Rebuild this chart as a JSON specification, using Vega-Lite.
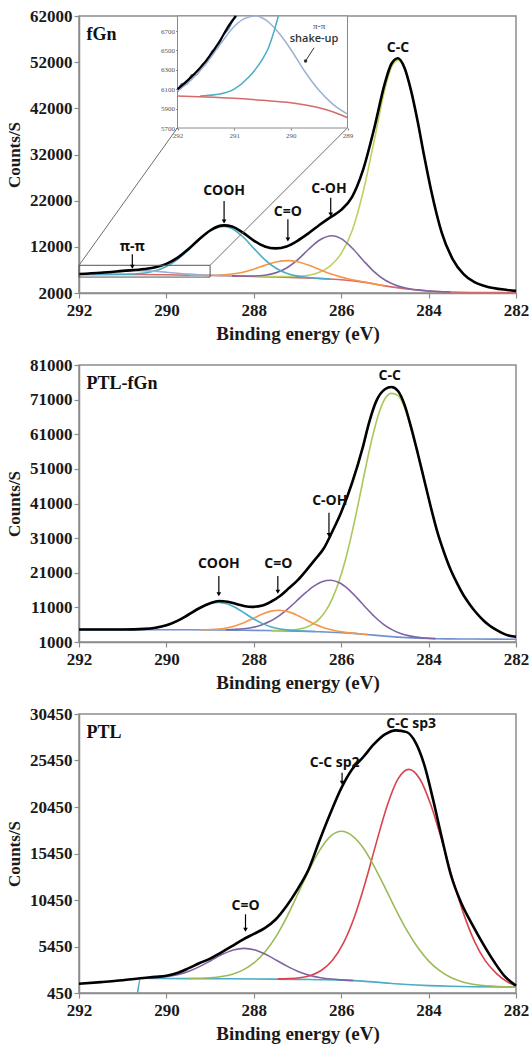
{
"$schema":"https://vega.github.io/schema/vega-lite/v6.json",
"background":"white",
"padding":{"left":4,"top":6,"right":5,"bottom":5},
"bounds":"flush",
"spacing":72,
"resolve":{"scale":{"color":"independent"}},
"config":{
 "view":{"stroke":"#8c8c8c","strokeWidth":1.5},
 "axis":{"labelFont":"Liberation Serif","labelFontWeight":"bold","labelColor":"#1a1a1a","titleFont":"Liberation Serif","titleFontWeight":"bold","titleColor":"#1a1a1a","domainColor":"#8c8c8c","domainWidth":1.5,"tickColor":"#8c8c8c","tickWidth":1.2,"tickSize":5,"grid":false,"labelFlush":false,"labelOverlap":false}
},
"datasets":{
"p1":[
{"E":292,"v":6100,"s":"env"},{"E":291.5,"v":6390,"s":"env"},{"E":291,"v":6790,"s":"env"},{"E":290.5,"v":7200,"s":"env"},{"E":290.25,"v":7576,"s":"env"},{"E":290,"v":8318,"s":"env"},{"E":289.75,"v":9608,"s":"env"},{"E":289.5,"v":11479,"s":"env"},{"E":289.25,"v":13639,"s":"env"},{"E":289,"v":15538,"s":"env"},{"E":288.75,"v":16600,"s":"env"},{"E":288.68,"v":16642,"s":"env"},{"E":288.5,"v":16394,"s":"env"},{"E":288.25,"v":15076,"s":"env"},{"E":288,"v":13356,"s":"env"},{"E":287.75,"v":12089,"s":"env"},{"E":287.5,"v":11660,"s":"env"},{"E":287.25,"v":12093,"s":"env"},{"E":287,"v":13310,"s":"env"},{"E":286.75,"v":14926,"s":"env"},{"E":286.5,"v":16729,"s":"env"},{"E":286.25,"v":18382,"s":"env"},{"E":286,"v":20001,"s":"env"},{"E":285.75,"v":22828,"s":"env"},{"E":285.5,"v":28669,"s":"env"},{"E":285.25,"v":37473,"s":"env"},{"E":285,"v":47474,"s":"env"},{"E":284.85,"v":51653,"s":"env"},{"E":284.7,"v":52843,"s":"env"},{"E":284.55,"v":50739,"s":"env"},{"E":284.4,"v":45775,"s":"env"},{"E":284.25,"v":39150,"s":"env"},{"E":284.1,"v":31607,"s":"env"},{"E":283.95,"v":24585,"s":"env"},{"E":283.7,"v":15098,"s":"env"},{"E":283.45,"v":9359,"s":"env"},{"E":283.2,"v":6094,"s":"env"},{"E":282.95,"v":4334,"s":"env"},{"E":282.7,"v":3470,"s":"env"},{"E":282.2,"v":2657,"s":"env"},{"E":282,"v":2454,"s":"env"},
{"E":292,"v":6040,"s":"bg"},{"E":291,"v":6010,"s":"bg"},{"E":290,"v":5950,"s":"bg"},{"E":289.5,"v":5880,"s":"bg"},{"E":289,"v":5800,"s":"bg"},{"E":288.5,"v":5700,"s":"bg"},{"E":288,"v":5580,"s":"bg"},{"E":287.5,"v":5460,"s":"bg"},{"E":287,"v":5320,"s":"bg"},{"E":286.5,"v":5140,"s":"bg"},{"E":286,"v":4880,"s":"bg"},{"E":285.5,"v":4350,"s":"bg"},{"E":285,"v":3550,"s":"bg"},{"E":284.5,"v":2880,"s":"bg"},{"E":284,"v":2420,"s":"bg"},{"E":283.5,"v":2220,"s":"bg"},{"E":283,"v":2120,"s":"bg"},{"E":282,"v":2060,"s":"bg"},
{"E":288,"v":5600,"s":"CC"},{"E":287.5,"v":5560,"s":"CC"},{"E":287,"v":5640,"s":"CC"},{"E":286.75,"v":5832,"s":"CC"},{"E":286.5,"v":6471,"s":"CC"},{"E":286.25,"v":7879,"s":"CC"},{"E":286,"v":10550,"s":"CC"},{"E":285.75,"v":15496,"s":"CC"},{"E":285.5,"v":23824,"s":"CC"},{"E":285.25,"v":34763,"s":"CC"},{"E":285,"v":46195,"s":"CC"},{"E":284.85,"v":50905,"s":"CC"},{"E":284.7,"v":52430,"s":"CC"},{"E":284.55,"v":50525,"s":"CC"},{"E":284.4,"v":45671,"s":"CC"},{"E":284.25,"v":39102,"s":"CC"},{"E":284.1,"v":31587,"s":"CC"},{"E":283.95,"v":24585,"s":"CC"},{"E":283.7,"v":15098,"s":"CC"},{"E":283.45,"v":9359,"s":"CC"},{"E":283.2,"v":6094,"s":"CC"},{"E":282.95,"v":4334,"s":"CC"},{"E":282.7,"v":3470,"s":"CC"},{"E":282.2,"v":2657,"s":"CC"},{"E":282,"v":2454,"s":"CC"},
{"E":288.5,"v":5706,"s":"COH"},{"E":288,"v":5684,"s":"COH"},{"E":287.75,"v":5854,"s":"COH"},{"E":287.5,"v":6359,"s":"COH"},{"E":287.25,"v":7423,"s":"COH"},{"E":287,"v":9185,"s":"COH"},{"E":286.75,"v":11416,"s":"COH"},{"E":286.5,"v":13436,"s":"COH"},{"E":286.2,"v":14390,"s":"COH"},{"E":286,"v":13770,"s":"COH"},{"E":285.75,"v":11745,"s":"COH"},{"E":285.5,"v":9110,"s":"COH"},{"E":285.25,"v":6634,"s":"COH"},{"E":285,"v":4822,"s":"COH"},{"E":284.75,"v":3687,"s":"COH"},{"E":284.5,"v":3020,"s":"COH"},{"E":284.25,"v":2668,"s":"COH"},{"E":284,"v":2431,"s":"COH"},{"E":283.5,"v":2225,"s":"COH"},
{"E":289.5,"v":5884,"s":"CO"},{"E":289,"v":5854,"s":"CO"},{"E":288.75,"v":5910,"s":"CO"},{"E":288.5,"v":6105,"s":"CO"},{"E":288.25,"v":6510,"s":"CO"},{"E":288,"v":7168,"s":"CO"},{"E":287.75,"v":7983,"s":"CO"},{"E":287.5,"v":8707,"s":"CO"},{"E":287.2,"v":9020,"s":"CO"},{"E":287,"v":8784,"s":"CO"},{"E":286.75,"v":8045,"s":"CO"},{"E":286.5,"v":7070,"s":"CO"},{"E":286.25,"v":6148,"s":"CO"},{"E":286,"v":5441,"s":"CO"},{"E":285.75,"v":4887,"s":"CO"},{"E":285.5,"v":4435,"s":"CO"},{"E":285.25,"v":3976,"s":"CO"},{"E":285,"v":3557,"s":"CO"},
{"E":292,"v":6040,"s":"COOH"},{"E":291,"v":6054,"s":"COOH"},{"E":290.5,"v":6344,"s":"COOH"},{"E":290.25,"v":6832,"s":"COOH"},{"E":290,"v":7758,"s":"COOH"},{"E":289.75,"v":9243,"s":"COOH"},{"E":289.5,"v":11273,"s":"COOH"},{"E":289.25,"v":13523,"s":"COOH"},{"E":289,"v":15441,"s":"COOH"},{"E":288.85,"v":16160,"s":"COOH"},{"E":288.68,"v":16430,"s":"COOH"},{"E":288.5,"v":15983,"s":"COOH"},{"E":288.25,"v":14179,"s":"COOH"},{"E":288,"v":11664,"s":"COOH"},{"E":287.75,"v":9242,"s":"COOH"},{"E":287.5,"v":7415,"s":"COOH"},{"E":287.25,"v":6272,"s":"COOH"},{"E":287,"v":5661,"s":"COOH"},{"E":286.75,"v":5353,"s":"COOH"},{"E":286.5,"v":5172,"s":"COOH"},{"E":286.25,"v":5028,"s":"COOH"},
{"E":292,"v":6080,"s":"pp"},{"E":291.75,"v":6200,"s":"pp"},{"E":291.5,"v":6360,"s":"pp"},{"E":291.25,"v":6560,"s":"pp"},{"E":291,"v":6747,"s":"pp"},{"E":290.8,"v":6833,"s":"pp"},{"E":290.62,"v":6855,"s":"pp"},{"E":290.4,"v":6796,"s":"pp"},{"E":290.2,"v":6671,"s":"pp"},{"E":290,"v":6510,"s":"pp"},{"E":289.75,"v":6280,"s":"pp"},{"E":289.5,"v":6086,"s":"pp"},{"E":289.25,"v":5941,"s":"pp"},{"E":289,"v":5843,"s":"pp"},{"E":288.75,"v":5766,"s":"pp"},{"E":288.5,"v":5705,"s":"pp"}
],
"ins":[
{"E":292,"v":6100,"s":"env"},{"E":291.75,"v":6230,"s":"env"},{"E":291.5,"v":6390,"s":"env"},{"E":291.25,"v":6600,"s":"env"},{"E":291.1,"v":6750,"s":"env"},{"E":290.97,"v":6855,"s":"env"},
{"E":292,"v":6070,"s":"raw"},{"E":291.92,"v":6160,"s":"raw"},{"E":291.84,"v":6150,"s":"raw"},{"E":291.75,"v":6250,"s":"raw"},{"E":291.66,"v":6250,"s":"raw"},{"E":291.57,"v":6350,"s":"raw"},{"E":291.48,"v":6390,"s":"raw"},{"E":291.38,"v":6500,"s":"raw"},{"E":291.3,"v":6520,"s":"raw"},{"E":291.2,"v":6650,"s":"raw"},{"E":291.1,"v":6720,"s":"raw"},{"E":291,"v":6830,"s":"raw"},{"E":290.95,"v":6855,"s":"raw"},
{"E":292,"v":6080,"s":"pp"},{"E":291.75,"v":6200,"s":"pp"},{"E":291.5,"v":6360,"s":"pp"},{"E":291.25,"v":6560,"s":"pp"},{"E":291,"v":6747,"s":"pp"},{"E":290.8,"v":6833,"s":"pp"},{"E":290.62,"v":6855,"s":"pp"},{"E":290.4,"v":6796,"s":"pp"},{"E":290.2,"v":6671,"s":"pp"},{"E":290,"v":6510,"s":"pp"},{"E":289.75,"v":6280,"s":"pp"},{"E":289.5,"v":6086,"s":"pp"},{"E":289.25,"v":5941,"s":"pp"},{"E":289,"v":5843,"s":"pp"},
{"E":291.6,"v":6030,"s":"COOH"},{"E":291.25,"v":6050,"s":"COOH"},{"E":291,"v":6100,"s":"COOH"},{"E":290.75,"v":6220,"s":"COOH"},{"E":290.5,"v":6410,"s":"COOH"},{"E":290.4,"v":6520,"s":"COOH"},{"E":290.3,"v":6690,"s":"COOH"},{"E":290.22,"v":6855,"s":"COOH"},
{"E":292,"v":6030,"s":"bg"},{"E":291.5,"v":6020,"s":"bg"},{"E":291,"v":6006,"s":"bg"},{"E":290.5,"v":5985,"s":"bg"},{"E":290,"v":5961,"s":"bg"},{"E":289.5,"v":5909,"s":"bg"},{"E":289.25,"v":5865,"s":"bg"},{"E":289,"v":5806,"s":"bg"}
],
"p2":[
{"E":292,"v":4600,"s":"env"},{"E":291,"v":4620,"s":"env"},{"E":290.5,"v":4800,"s":"env"},{"E":290.25,"v":5120,"s":"env"},{"E":290,"v":5830,"s":"env"},{"E":289.75,"v":7100,"s":"env"},{"E":289.5,"v":8870,"s":"env"},{"E":289.25,"v":10750,"s":"env"},{"E":289,"v":12180,"s":"env"},{"E":288.8,"v":12840,"s":"env"},{"E":288.6,"v":12650,"s":"env"},{"E":288.4,"v":11950,"s":"env"},{"E":288.2,"v":11350,"s":"env"},{"E":288.05,"v":11150,"s":"env"},{"E":287.8,"v":11550,"s":"env"},{"E":287.6,"v":12700,"s":"env"},{"E":287.4,"v":14300,"s":"env"},{"E":287.2,"v":16500,"s":"env"},{"E":287,"v":18800,"s":"env"},{"E":286.8,"v":21700,"s":"env"},{"E":286.6,"v":24800,"s":"env"},{"E":286.4,"v":28000,"s":"env"},{"E":286.2,"v":33000,"s":"env"},{"E":286,"v":38500,"s":"env"},{"E":285.75,"v":47000,"s":"env"},{"E":285.5,"v":57500,"s":"env"},{"E":285.37,"v":64000,"s":"env"},{"E":285.2,"v":70500,"s":"env"},{"E":285,"v":74000,"s":"env"},{"E":284.85,"v":74650,"s":"env"},{"E":284.7,"v":73500,"s":"env"},{"E":284.55,"v":69500,"s":"env"},{"E":284.4,"v":63000,"s":"env"},{"E":284.25,"v":55600,"s":"env"},{"E":284.1,"v":47800,"s":"env"},{"E":283.95,"v":40000,"s":"env"},{"E":283.8,"v":32800,"s":"env"},{"E":283.65,"v":27000,"s":"env"},{"E":283.5,"v":22000,"s":"env"},{"E":283.35,"v":18000,"s":"env"},{"E":283.2,"v":14500,"s":"env"},{"E":283.05,"v":11700,"s":"env"},{"E":282.9,"v":9300,"s":"env"},{"E":282.75,"v":7300,"s":"env"},{"E":282.6,"v":5700,"s":"env"},{"E":282.45,"v":4500,"s":"env"},{"E":282.3,"v":3500,"s":"env"},{"E":282.15,"v":2800,"s":"env"},{"E":282,"v":2500,"s":"env"},
{"E":292,"v":4600,"s":"bg"},{"E":290,"v":4550,"s":"bg"},{"E":289,"v":4480,"s":"bg"},{"E":288.5,"v":4420,"s":"bg"},{"E":288,"v":4350,"s":"bg"},{"E":287.5,"v":4260,"s":"bg"},{"E":287,"v":4150,"s":"bg"},{"E":286.5,"v":3980,"s":"bg"},{"E":286,"v":3700,"s":"bg"},{"E":285.5,"v":3250,"s":"bg"},{"E":285,"v":2700,"s":"bg"},{"E":284.5,"v":2250,"s":"bg"},{"E":284,"v":2000,"s":"bg"},{"E":283.5,"v":1900,"s":"bg"},{"E":283,"v":1850,"s":"bg"},{"E":282,"v":1800,"s":"bg"},
{"E":287.6,"v":4278,"s":"CC"},{"E":287.35,"v":4314,"s":"CC"},{"E":287.1,"v":4465,"s":"CC"},{"E":286.85,"v":5020,"s":"CC"},{"E":286.65,"v":6140,"s":"CC"},{"E":286.5,"v":7680,"s":"CC"},{"E":286.35,"v":10070,"s":"CC"},{"E":286.2,"v":13610,"s":"CC"},{"E":286.05,"v":18530,"s":"CC"},{"E":285.9,"v":24920,"s":"CC"},{"E":285.75,"v":32730,"s":"CC"},{"E":285.6,"v":41550,"s":"CC"},{"E":285.45,"v":50820,"s":"CC"},{"E":285.3,"v":59440,"s":"CC"},{"E":285.15,"v":66580,"s":"CC"},{"E":285,"v":71250,"s":"CC"},{"E":284.85,"v":72800,"s":"CC"},{"E":284.7,"v":72170,"s":"CC"},{"E":284.55,"v":68690,"s":"CC"},{"E":284.4,"v":62527,"s":"CC"},{"E":284.25,"v":55337,"s":"CC"},{"E":284.1,"v":47660,"s":"CC"},{"E":283.95,"v":39930,"s":"CC"},{"E":283.8,"v":32800,"s":"CC"},{"E":283.65,"v":27000,"s":"CC"},{"E":283.5,"v":22000,"s":"CC"},{"E":283.35,"v":18000,"s":"CC"},{"E":283.2,"v":14500,"s":"CC"},{"E":283.05,"v":11700,"s":"CC"},{"E":282.9,"v":9300,"s":"CC"},{"E":282.75,"v":7300,"s":"CC"},{"E":282.6,"v":5700,"s":"CC"},{"E":282.45,"v":4500,"s":"CC"},{"E":282.3,"v":3500,"s":"CC"},{"E":282.15,"v":2800,"s":"CC"},{"E":282,"v":2500,"s":"CC"},
{"E":288.64,"v":4520,"s":"COH"},{"E":288.24,"v":4808,"s":"COH"},{"E":288.04,"v":5193,"s":"COH"},{"E":287.84,"v":5862,"s":"COH"},{"E":287.64,"v":6905,"s":"COH"},{"E":287.44,"v":8410,"s":"COH"},{"E":287.24,"v":10353,"s":"COH"},{"E":287.04,"v":12633,"s":"COH"},{"E":286.84,"v":14956,"s":"COH"},{"E":286.64,"v":16999,"s":"COH"},{"E":286.44,"v":18406,"s":"COH"},{"E":286.24,"v":18820,"s":"COH"},{"E":286.04,"v":18091,"s":"COH"},{"E":285.84,"v":16270,"s":"COH"},{"E":285.64,"v":13754,"s":"COH"},{"E":285.44,"v":10984,"s":"COH"},{"E":285.24,"v":8369,"s":"COH"},{"E":285.04,"v":6183,"s":"COH"},{"E":284.84,"v":4571,"s":"COH"},{"E":284.64,"v":3479,"s":"COH"},{"E":284.44,"v":2769,"s":"COH"},{"E":284.24,"v":2353,"s":"COH"},{"E":284.04,"v":2118,"s":"COH"},{"E":283.84,"v":1980,"s":"COH"},
{"E":289.2,"v":4535,"s":"CO"},{"E":289,"v":4607,"s":"CO"},{"E":288.8,"v":4773,"s":"CO"},{"E":288.6,"v":5128,"s":"CO"},{"E":288.4,"v":5760,"s":"CO"},{"E":288.2,"v":6703,"s":"CO"},{"E":288,"v":7884,"s":"CO"},{"E":287.8,"v":9060,"s":"CO"},{"E":287.6,"v":9918,"s":"CO"},{"E":287.42,"v":10174,"s":"CO"},{"E":287.2,"v":9698,"s":"CO"},{"E":287,"v":8670,"s":"CO"},{"E":286.8,"v":7367,"s":"CO"},{"E":286.6,"v":6121,"s":"CO"},{"E":286.4,"v":5144,"s":"CO"},{"E":286.2,"v":4468,"s":"CO"},{"E":286,"v":3967,"s":"CO"},{"E":285.8,"v":3625,"s":"CO"},{"E":285.6,"v":3376,"s":"CO"},{"E":285.4,"v":3160,"s":"CO"},
{"E":292,"v":4600,"s":"COOH"},{"E":291.5,"v":4590,"s":"COOH"},{"E":291,"v":4594,"s":"COOH"},{"E":290.5,"v":4749,"s":"COOH"},{"E":290.25,"v":5078,"s":"COOH"},{"E":290,"v":5780,"s":"COOH"},{"E":289.75,"v":7013,"s":"COOH"},{"E":289.5,"v":8747,"s":"COOH"},{"E":289.25,"v":10643,"s":"COOH"},{"E":289,"v":12073,"s":"COOH"},{"E":288.8,"v":12456,"s":"COOH"},{"E":288.6,"v":12000,"s":"COOH"},{"E":288.4,"v":10816,"s":"COOH"},{"E":288.2,"v":9234,"s":"COOH"},{"E":288,"v":7638,"s":"COOH"},{"E":287.8,"v":6306,"s":"COOH"},{"E":287.6,"v":5358,"s":"COOH"},{"E":287.4,"v":4766,"s":"COOH"},{"E":287.2,"v":4424,"s":"COOH"},{"E":287,"v":4239,"s":"COOH"},{"E":286.8,"v":4113,"s":"COOH"},{"E":286.6,"v":4024,"s":"COOH"}
],
"p3":[
{"E":292,"v":1450,"s":"env"},{"E":291.5,"v":1620,"s":"env"},{"E":291,"v":1820,"s":"env"},{"E":290.6,"v":2030,"s":"env"},{"E":290.25,"v":2180,"s":"env"},{"E":290,"v":2300,"s":"env"},{"E":289.75,"v":2600,"s":"env"},{"E":289.5,"v":3100,"s":"env"},{"E":289.25,"v":3650,"s":"env"},{"E":289,"v":4150,"s":"env"},{"E":288.75,"v":4800,"s":"env"},{"E":288.5,"v":5480,"s":"env"},{"E":288.25,"v":6200,"s":"env"},{"E":288,"v":6800,"s":"env"},{"E":287.75,"v":7420,"s":"env"},{"E":287.5,"v":8350,"s":"env"},{"E":287.25,"v":9800,"s":"env"},{"E":287,"v":11600,"s":"env"},{"E":286.75,"v":13700,"s":"env"},{"E":286.5,"v":16800,"s":"env"},{"E":286.25,"v":19750,"s":"env"},{"E":286,"v":22450,"s":"env"},{"E":285.75,"v":24500,"s":"env"},{"E":285.5,"v":25800,"s":"env"},{"E":285.25,"v":27200,"s":"env"},{"E":285,"v":28250,"s":"env"},{"E":284.75,"v":28690,"s":"env"},{"E":284.5,"v":28500,"s":"env"},{"E":284.3,"v":27400,"s":"env"},{"E":284.1,"v":25000,"s":"env"},{"E":283.9,"v":21300,"s":"env"},{"E":283.7,"v":17200,"s":"env"},{"E":283.5,"v":13300,"s":"env"},{"E":283.25,"v":10100,"s":"env"},{"E":283,"v":7800,"s":"env"},{"E":282.75,"v":5700,"s":"env"},{"E":282.5,"v":3800,"s":"env"},{"E":282.25,"v":2200,"s":"env"},{"E":282,"v":1250,"s":"env"},
{"E":290.66,"v":450,"s":"bg"},{"E":290.59,"v":2030,"s":"bg"},{"E":290,"v":2010,"s":"bg"},{"E":289,"v":1990,"s":"bg"},{"E":288,"v":1960,"s":"bg"},{"E":287,"v":1920,"s":"bg"},{"E":286.5,"v":1880,"s":"bg"},{"E":286,"v":1835,"s":"bg"},{"E":285.5,"v":1730,"s":"bg"},{"E":285,"v":1540,"s":"bg"},{"E":284.5,"v":1365,"s":"bg"},{"E":284,"v":1245,"s":"bg"},{"E":283.5,"v":1170,"s":"bg"},{"E":283,"v":1130,"s":"bg"},{"E":282,"v":1100,"s":"bg"},
{"E":287.45,"v":1965,"s":"sp3"},{"E":287.2,"v":1998,"s":"sp3"},{"E":286.95,"v":2095,"s":"sp3"},{"E":286.7,"v":2344,"s":"sp3"},{"E":286.45,"v":2897,"s":"sp3"},{"E":286.2,"v":3974,"s":"sp3"},{"E":285.95,"v":5810,"s":"sp3"},{"E":285.7,"v":8600,"s":"sp3"},{"E":285.45,"v":12310,"s":"sp3"},{"E":285.2,"v":16540,"s":"sp3"},{"E":284.95,"v":20570,"s":"sp3"},{"E":284.7,"v":23470,"s":"sp3"},{"E":284.45,"v":24500,"s":"sp3"},{"E":284.2,"v":23460,"s":"sp3"},{"E":283.95,"v":20685,"s":"sp3"},{"E":283.7,"v":16875,"s":"sp3"},{"E":283.45,"v":12735,"s":"sp3"},{"E":283.2,"v":8985,"s":"sp3"},{"E":282.95,"v":6010,"s":"sp3"},{"E":282.7,"v":3900,"s":"sp3"},{"E":282.45,"v":2560,"s":"sp3"},{"E":282.2,"v":1650,"s":"sp3"},{"E":282,"v":1230,"s":"sp3"},
{"E":289.49,"v":2013,"s":"sp2"},{"E":288.99,"v":2094,"s":"sp2"},{"E":288.74,"v":2220,"s":"sp2"},{"E":288.49,"v":2474,"s":"sp2"},{"E":288.24,"v":2936,"s":"sp2"},{"E":287.99,"v":3706,"s":"sp2"},{"E":287.74,"v":4883,"s":"sp2"},{"E":287.49,"v":6547,"s":"sp2"},{"E":287.24,"v":8673,"s":"sp2"},{"E":286.99,"v":11122,"s":"sp2"},{"E":286.74,"v":13614,"s":"sp2"},{"E":286.49,"v":15816,"s":"sp2"},{"E":286.24,"v":17316,"s":"sp2"},{"E":285.99,"v":17835,"s":"sp2"},{"E":285.74,"v":17330,"s":"sp2"},{"E":285.49,"v":16020,"s":"sp2"},{"E":285.24,"v":14020,"s":"sp2"},{"E":284.99,"v":11700,"s":"sp2"},{"E":284.74,"v":9320,"s":"sp2"},{"E":284.49,"v":7120,"s":"sp2"},{"E":284.24,"v":5280,"s":"sp2"},{"E":283.99,"v":3850,"s":"sp2"},{"E":283.74,"v":2820,"s":"sp2"},{"E":283.49,"v":2110,"s":"sp2"},{"E":283.24,"v":1670,"s":"sp2"},{"E":282.99,"v":1400,"s":"sp2"},{"E":282.49,"v":1174,"s":"sp2"},{"E":282,"v":1100,"s":"sp2"},
{"E":290.47,"v":2058,"s":"CO"},{"E":290.22,"v":2109,"s":"CO"},{"E":289.97,"v":2223,"s":"CO"},{"E":289.72,"v":2443,"s":"CO"},{"E":289.47,"v":2813,"s":"CO"},{"E":289.22,"v":3340,"s":"CO"},{"E":288.97,"v":3979,"s":"CO"},{"E":288.72,"v":4609,"s":"CO"},{"E":288.47,"v":5080,"s":"CO"},{"E":288.22,"v":5250,"s":"CO"},{"E":287.97,"v":5068,"s":"CO"},{"E":287.72,"v":4584,"s":"CO"},{"E":287.47,"v":3940,"s":"CO"},{"E":287.22,"v":3286,"s":"CO"},{"E":286.97,"v":2738,"s":"CO"},{"E":286.72,"v":2343,"s":"CO"},{"E":286.47,"v":2096,"s":"CO"},{"E":286.22,"v":1954,"s":"CO"},{"E":285.97,"v":1866,"s":"CO"},{"E":285.72,"v":1793,"s":"CO"}
]
},
"vconcat":[
{
 "width":437,"height":277,
 "resolve":{"scale":{"x":"independent","y":"independent","color":"independent"},"axis":{"x":"independent","y":"independent"}},
 "layer":[
  {
   "encoding":{
    "x":{"field":"E","type":"quantitative","scale":{"domain":[282,292],"reverse":true,"nice":false,"zero":false},"axis":{"values":[282,284,286,288,290,292],"format":"d","title":"Binding energy (eV)","labelFontSize":17,"titleFontSize":19,"labelPadding":4,"titlePadding":6}},
    "y":{"field":"v","type":"quantitative","scale":{"domain":[2000,62000],"nice":false,"zero":false},"axis":{"values":[2000,12000,22000,32000,42000,52000,62000],"format":"d","title":"Counts/S","labelFontSize":17,"titleFontSize":17,"labelPadding":2,"titlePadding":6}}
   },
   "layer":[
    {"data":{"name":"p1"},"transform":[{"filter":"datum.s !== 'env'"}],"mark":{"type":"line","strokeWidth":1.6,"interpolate":"monotone"},
     "encoding":{"color":{"field":"s","type":"nominal","legend":null,"scale":{"domain":["bg","pp","COOH","CO","COH","CC"],"range":["#d46a6a","#9db0d4","#4bacc6","#f79646","#8064a2","#bdd164"]}}}},
    {"data":{"name":"p1"},"transform":[{"filter":"datum.s === 'env'"}],"mark":{"type":"line","color":"#000000","strokeWidth":2.6,"interpolate":"monotone"}},
    {"data":{"values":[{"E":292,"E2":289,"v":5450,"v2":8000}]},"mark":{"type":"rect","fillOpacity":0,"stroke":"#555555","strokeWidth":1},"encoding":{"x2":{"field":"E2"},"y2":{"field":"v2"}}},
    {"data":{"values":[{"E":292,"v":8000,"E2":289.75,"v2":37739},{"E":289,"v":8000,"E2":285.86,"v2":37739}]},"mark":{"type":"rule","color":"#6e6e6e","strokeWidth":1},"encoding":{"x2":{"field":"E2"},"y2":{"field":"v2"}}},
    {"data":{"values":[{"E":288.68,"v":21930,"v2":17600},{"E":287.22,"v":17960,"v2":13700},{"E":286.24,"v":22640,"v2":19100},{"E":290.78,"v":10380,"v2":7800}]},"mark":{"type":"rule","color":"#000000","strokeWidth":1.2},"encoding":{"y2":{"field":"v2"}}},
    {"data":{"values":[{"E":288.68,"v":17500},{"E":287.22,"v":13600},{"E":286.24,"v":19000},{"E":290.78,"v":7700}]},"mark":{"type":"point","shape":"triangle-down","size":22,"filled":true,"color":"#000000","opacity":1}},
    {"data":{"values":[{"E":284.7,"v":55130,"t":"C-C"},{"E":288.68,"v":24090,"t":"COOH"},{"E":287.22,"v":19610,"t":"C=O"},{"E":286.28,"v":24460,"t":"C-OH"},{"E":290.78,"v":11960,"t":"π-π"}]},"mark":{"type":"text","font":"Open Sans","fontWeight":"bold","fontSize":14,"align":"center","baseline":"middle","color":"#111111"},"encoding":{"text":{"field":"t"}}},
    {"data":{"values":[{"E":291.83,"v":57990,"t":"fGn"}]},"mark":{"type":"text","font":"Liberation Serif","fontWeight":"bold","fontSize":18,"align":"left","baseline":"middle","color":"#111111"},"encoding":{"text":{"field":"t"}}}
   ]
  },
  {
   "encoding":{
    "x":{"field":"E","type":"quantitative","scale":{"domain":[289,292],"range":[268.5,98.5],"nice":false,"zero":false},"axis":{"orient":"bottom","offset":-165,"values":[289,290,291,292],"format":"d","title":null,"domain":false,"tickSize":2,"labelFontSize":7,"labelPadding":1,"labelFontWeight":"normal","labelColor":"#555555","tickColor":"#888888"}},
    "y":{"field":"v","type":"quantitative","scale":{"domain":[5700,6855],"range":[112,0],"nice":false,"zero":false},"axis":{"orient":"left","offset":-98.5,"values":[5700,5900,6100,6300,6500,6700],"format":"d","title":null,"domain":false,"tickSize":2,"labelFontSize":7,"labelPadding":1,"labelFontWeight":"normal","labelColor":"#555555","tickColor":"#888888"}}
   },
   "layer":[
    {"data":{"values":[{"E":292,"E2":289,"v":5700,"v2":6855}]},"mark":{"type":"rect","fill":"#ffffff","stroke":"#8a8a8a","strokeWidth":1},"encoding":{"x2":{"field":"E2"},"y2":{"field":"v2"}}},
    {"data":{"name":"ins"},"transform":[{"filter":"datum.s !== 'env'"}],"mark":{"type":"line","strokeWidth":1.5,"interpolate":"monotone"},
     "encoding":{"color":{"field":"s","type":"nominal","legend":null,"scale":{"domain":["bg","pp","COOH","raw"],"range":["#d46a6a","#9db0d4","#4bacc6","#5b7fbf"]}}}},
    {"data":{"name":"ins"},"transform":[{"filter":"datum.s === 'env'"}],"mark":{"type":"line","color":"#000000","strokeWidth":2.2,"interpolate":"monotone"}},
    {"data":{"values":[{"E":289.5,"v":6752,"t":"π-π"}]},"mark":{"type":"text","font":"Liberation Serif","fontSize":9,"align":"center","baseline":"middle","color":"#333333"},"encoding":{"text":{"field":"t"}}},
    {"data":{"values":[{"E":289.59,"v":6615,"t":"shake-up"}]},"mark":{"type":"text","font":"Open Sans","fontWeight":600,"fontSize":11,"align":"center","baseline":"middle","color":"#333333"},"encoding":{"text":{"field":"t"}}},
    {"data":{"values":[{"E":289.59,"v":6528,"E2":289.74,"v2":6391}]},"mark":{"type":"rule","color":"#333333","strokeWidth":1},"encoding":{"x2":{"field":"E2"},"y2":{"field":"v2"}}},
    {"data":{"values":[{"E":289.74,"v":6391}]},"mark":{"type":"point","filled":true,"size":12,"color":"#333333","opacity":1}}
   ]
  }
 ]
},
{
 "width":437,"height":277,
 "encoding":{
  "x":{"field":"E","type":"quantitative","scale":{"domain":[282,292],"reverse":true,"nice":false,"zero":false},"axis":{"values":[282,284,286,288,290,292],"format":"d","title":"Binding energy (eV)","labelFontSize":17,"titleFontSize":19,"labelPadding":4,"titlePadding":6}},
  "y":{"field":"v","type":"quantitative","scale":{"domain":[1000,81000],"nice":false,"zero":false},"axis":{"values":[1000,11000,21000,31000,41000,51000,61000,71000,81000],"format":"d","title":"Counts/S","labelFontSize":17,"titleFontSize":17,"labelPadding":2,"titlePadding":6}}
 },
 "layer":[
  {"data":{"name":"p2"},"transform":[{"filter":"datum.s !== 'env'"}],"mark":{"type":"line","strokeWidth":1.6,"interpolate":"monotone"},
   "encoding":{"color":{"field":"s","type":"nominal","legend":null,"scale":{"domain":["bg","COOH","CO","COH","CC"],"range":["#7090d0","#4bacc6","#f79646","#8064a2","#aac75a"]}}}},
  {"data":{"name":"p2"},"transform":[{"filter":"datum.s === 'env'"}],"mark":{"type":"line","color":"#000000","strokeWidth":2.6,"interpolate":"monotone"}},
  {"data":{"values":[{"E":288.8,"v":20060,"v2":14900},{"E":287.45,"v":20060,"v2":15600},{"E":286.28,"v":38340,"v2":32000}]},"mark":{"type":"rule","color":"#000000","strokeWidth":1.2},"encoding":{"y2":{"field":"v2"}}},
  {"data":{"values":[{"E":288.8,"v":14800},{"E":287.45,"v":15500},{"E":286.28,"v":31900}]},"mark":{"type":"point","shape":"triangle-down","size":22,"filled":true,"color":"#000000","opacity":1}},
  {"data":{"values":[{"E":284.89,"v":77820,"t":"C-C"},{"E":286.26,"v":41720,"t":"C-OH"},{"E":288.8,"v":23440,"t":"COOH"},{"E":287.44,"v":23440,"t":"C=O"}]},"mark":{"type":"text","font":"Open Sans","fontWeight":"bold","fontSize":14,"align":"center","baseline":"middle","color":"#111111"},"encoding":{"text":{"field":"t"}}},
  {"data":{"values":[{"E":291.83,"v":75650,"t":"PTL-fGn"}]},"mark":{"type":"text","font":"Liberation Serif","fontWeight":"bold","fontSize":18,"align":"left","baseline":"middle","color":"#111111"},"encoding":{"text":{"field":"t"}}}
 ]
},
{
 "width":437,"height":279,
 "encoding":{
  "x":{"field":"E","type":"quantitative","scale":{"domain":[282,292],"reverse":true,"nice":false,"zero":false},"axis":{"values":[282,284,286,288,290,292],"format":"d","title":"Binding energy (eV)","labelFontSize":17,"titleFontSize":19,"labelPadding":4,"titlePadding":6}},
  "y":{"field":"v","type":"quantitative","scale":{"domain":[450,30450],"nice":false,"zero":false},"axis":{"values":[450,5450,10450,15450,20450,25450,30450],"format":"d","title":"Counts/S","labelFontSize":17,"titleFontSize":17,"labelPadding":2,"titlePadding":6}}
 },
 "layer":[
  {"data":{"name":"p3"},"transform":[{"filter":"datum.s !== 'env'"}],"mark":{"type":"line","strokeWidth":1.6,"interpolate":"monotone"},
   "encoding":{"color":{"field":"s","type":"nominal","legend":null,"scale":{"domain":["bg","CO","sp2","sp3"],"range":["#4bacc6","#8064a2","#9bbb59","#d9434e"]}}}},
  {"data":{"name":"p3"},"transform":[{"filter":"datum.s === 'env'"}],"mark":{"type":"line","color":"#000000","strokeWidth":2.6,"interpolate":"monotone"}},
  {"data":{"values":[{"E":285.98,"v":24130,"v2":23100},{"E":288.19,"v":8910,"v2":7300}]},"mark":{"type":"rule","color":"#000000","strokeWidth":1.2},"encoding":{"y2":{"field":"v2"}}},
  {"data":{"values":[{"E":285.98,"v":23050},{"E":288.19,"v":7250}]},"mark":{"type":"point","shape":"triangle-down","size":22,"filled":true,"color":"#000000","opacity":1}},
  {"data":{"values":[{"E":284.4,"v":29330,"t":"C-C sp3"},{"E":286.15,"v":25210,"t":"C-C sp2"},{"E":288.19,"v":9800,"t":"C=O"}]},"mark":{"type":"text","font":"Open Sans","fontWeight":"bold","fontSize":14,"align":"center","baseline":"middle","color":"#111111"},"encoding":{"text":{"field":"t"}}},
  {"data":{"values":[{"E":291.83,"v":28450,"t":"PTL"}]},"mark":{"type":"text","font":"Liberation Serif","fontWeight":"bold","fontSize":18,"align":"left","baseline":"middle","color":"#111111"},"encoding":{"text":{"field":"t"}}}
 ]
}
]
}
